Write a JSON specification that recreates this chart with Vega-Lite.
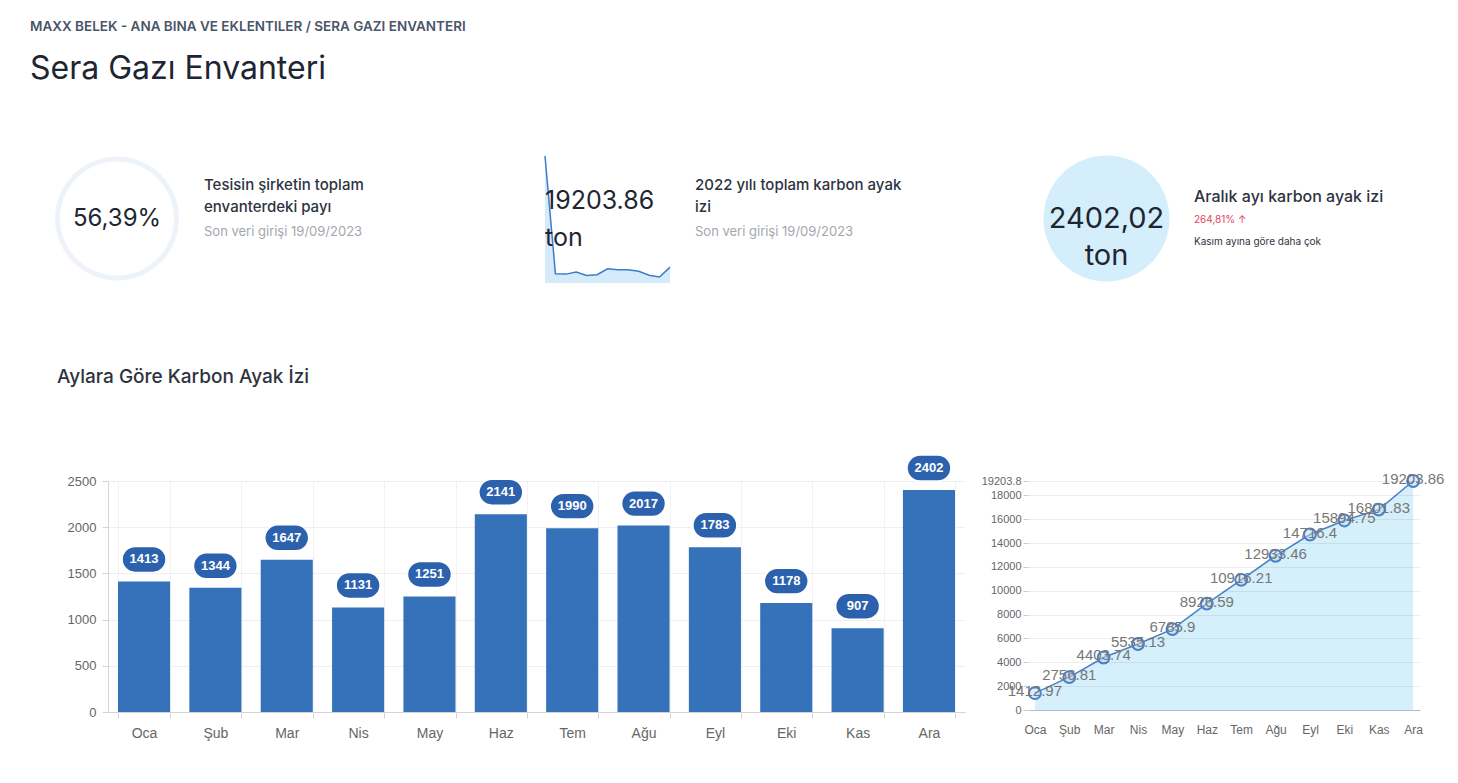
{
  "$schema": "https://vega.github.io/schema/vega-lite/v6.json",
  "background": "white",
  "padding": {"left": 30, "top": 20, "right": 10, "bottom": 10},
  "config": {"view": {"stroke": null}, "font": "Liberation Sans"},
  "title": {
    "text": "MAXX BELEK - ANA BINA VE EKLENTILER   /   SERA GAZI ENVANTERI",
    "subtitle": "Sera Gazı Envanteri",
    "anchor": "start",
    "font": "Inter",
    "fontSize": 13.5,
    "fontWeight": 600,
    "color": "#4a5568",
    "subtitleFont": "Inter",
    "subtitleFontSize": 32,
    "subtitleColor": "#1e2533",
    "subtitlePadding": 20,
    "offset": 66
  },
  "datasets": {
    "months": [
      {"month": "Oca", "monthly": 1412.97, "cumulative": 1412.97},
      {"month": "Şub", "monthly": 1343.84, "cumulative": 2756.81},
      {"month": "Mar", "monthly": 1646.93, "cumulative": 4403.74},
      {"month": "Nis", "monthly": 1131.39, "cumulative": 5535.13},
      {"month": "May", "monthly": 1250.77, "cumulative": 6785.9},
      {"month": "Haz", "monthly": 2140.69, "cumulative": 8926.59},
      {"month": "Tem", "monthly": 1989.62, "cumulative": 10916.21},
      {"month": "Ağu", "monthly": 2017.25, "cumulative": 12933.46},
      {"month": "Eyl", "monthly": 1782.94, "cumulative": 14716.4},
      {"month": "Eki", "monthly": 1178.35, "cumulative": 15894.75},
      {"month": "Kas", "monthly": 907.08, "cumulative": 16801.83},
      {"month": "Ara", "monthly": 2402.02, "cumulative": 19203.86}
    ],
    "spark": [
      {"label": "Toplam", "value": 19203.86, "caption": "19203.86 ton"},
      {"label": "Oca", "value": 1412.97},
      {"label": "Şub", "value": 1343.84},
      {"label": "Mar", "value": 1646.93},
      {"label": "Nis", "value": 1131.39},
      {"label": "May", "value": 1250.77},
      {"label": "Haz", "value": 2140.69},
      {"label": "Tem", "value": 1989.62},
      {"label": "Ağu", "value": 2017.25},
      {"label": "Eyl", "value": 1782.94},
      {"label": "Eki", "value": 1178.35},
      {"label": "Kas", "value": 907.08},
      {"label": "Ara", "value": 2402.02}
    ]
  },
  "spacing": 85,
  "vconcat": [
    {
      "spacing": 30,
      "hconcat": [
        {
          "spacing": 25,
          "hconcat": [
            {
              "width": 18,
              "height": 125,
              "data": {"values": [{"metric": "Tesisin payı", "share": 56.39, "label": "56,39%"}]},
              "layer": [
                {
                  "mark": {"type": "arc", "innerRadius": 57, "outerRadius": 62, "color": "#eef3fa"},
                  "encoding": {"theta": {"field": "share", "type": "quantitative"}}
                },
                {
                  "mark": {"type": "text", "font": "Inter", "fontSize": 24, "color": "#1f2633"},
                  "encoding": {"text": {"field": "label"}}
                }
              ]
            },
            {
              "width": 308,
              "height": 1,
              "title": {
                "text": ["Tesisin şirketin toplam", "envanterdeki payı"],
                "subtitle": "Son veri girişi 19/09/2023",
                "orient": "bottom",
                "offset": 16,
                "anchor": "start",
                "font": "Inter",
                "fontSize": 15,
                "fontWeight": 500,
                "lineHeight": 22,
                "color": "#2d3340",
                "subtitleFont": "Inter",
                "subtitleFontSize": 13,
                "subtitleColor": "#a3a7ae",
                "subtitlePadding": 11
              },
              "data": {"values": [{}]},
              "mark": {"type": "text", "text": ""}
            }
          ]
        },
        {
          "spacing": 22,
          "hconcat": [
            {
              "width": 125,
              "height": 127,
              "data": {"name": "spark"},
              "encoding": {
                "x": {"field": "label", "type": "ordinal", "sort": null, "scale": {"type": "point", "padding": 0}, "axis": null},
                "y": {"field": "value", "type": "quantitative", "scale": {"domain": [0, 19203.86], "nice": false}, "axis": null}
              },
              "layer": [
                {"mark": {"type": "area", "color": "#d6ebf9"}},
                {"mark": {"type": "line", "color": "#3d7cc9", "strokeWidth": 1.5}},
                {
                  "transform": [{"filter": "isValid(datum.caption)"}],
                  "mark": {"type": "text", "align": "left", "baseline": "middle", "dy": 45, "font": "Inter", "fontSize": 25, "lineBreak": " ", "lineHeight": 37, "color": "#1f2633"},
                  "encoding": {
                    "text": {"field": "caption", "type": "nominal"}
                  }
                }
              ]
            },
            {
              "width": 294,
              "height": 1,
              "title": {
                "text": ["2022 yılı toplam karbon ayak", "izi"],
                "subtitle": "Son veri girişi 19/09/2023",
                "orient": "bottom",
                "offset": 16,
                "anchor": "start",
                "font": "Inter",
                "fontSize": 15,
                "fontWeight": 500,
                "lineHeight": 22,
                "color": "#2d3340",
                "subtitleFont": "Inter",
                "subtitleFontSize": 13,
                "subtitleColor": "#a3a7ae",
                "subtitlePadding": 11
              },
              "data": {"values": [{}]},
              "mark": {"type": "text", "text": ""}
            }
          ]
        },
        {
          "spacing": 0,
          "hconcat": [
            {
              "width": 175,
              "height": 125,
              "data": {"values": [{"metric": "Aralık", "amount": 2402.02, "label": "2402,02 ton"}]},
              "layer": [
                {
                  "mark": {"type": "arc", "outerRadius": 63, "color": "#d5eefb"},
                  "encoding": {"theta": {"field": "amount", "type": "quantitative"}}
                },
                {
                  "mark": {"type": "text", "font": "Inter", "fontSize": 29, "lineBreak": " ", "lineHeight": 37, "color": "#1f2633"},
                  "encoding": {"text": {"field": "label"}}
                }
              ]
            },
            {
              "spacing": 0,
              "vconcat": [
                {
                  "width": 230,
                  "height": 1,
                  "title": {
                    "text": "Aralık ayı karbon ayak izi",
                    "subtitle": "264,81% ↑",
                    "orient": "bottom",
                    "offset": 27,
                    "anchor": "start",
                    "font": "Inter",
                    "fontSize": 16,
                    "fontWeight": 500,
                    "color": "#2d3340",
                    "subtitleFont": "Inter",
                    "subtitleFontSize": 10,
                    "subtitleColor": "#e0455b",
                    "subtitlePadding": 10
                  },
                  "data": {"values": [{}]},
                  "mark": {"type": "text", "text": ""}
                },
                {
                  "width": 230,
                  "height": 1,
                  "title": {
                    "text": "Kasım ayına göre daha çok",
                    "orient": "bottom",
                    "offset": 0,
                    "anchor": "start",
                    "font": "Inter",
                    "fontSize": 10,
                    "fontWeight": 400,
                    "color": "#2d3340"
                  },
                  "data": {"values": [{}]},
                  "mark": {"type": "text", "text": ""}
                }
              ]
            }
          ]
        }
      ]
    },
    {
      "title": {
        "text": "Aylara Göre Karbon Ayak İzi",
        "anchor": "start",
        "font": "Inter",
        "fontSize": 19,
        "fontWeight": 500,
        "color": "#2d3340",
        "offset": 65,
        "dx": 27
      },
      "bounds": "flush",
      "spacing": 63,
      "hconcat": [
        {
          "width": 857,
          "height": 231,
          "data": {"name": "months"},
          "encoding": {
            "x": {
              "field": "month",
              "type": "nominal",
              "sort": null,
              "scale": {"paddingInner": 0.27, "paddingOuter": 0.14},
              "axis": {
                "title": null,
                "labelAngle": 0,
                "labelColor": "#666666",
                "labelFontSize": 14,
                "labelPadding": 8,
                "domainColor": "#d4d4d4",
                "tickColor": "#d4d4d4",
                "tickSize": 6,
                "tickBand": "extent",
                "grid": true,
                "gridColor": "#f2f2f2"
              }
            },
            "y": {
              "field": "monthly",
              "type": "quantitative",
              "scale": {"domain": [0, 2500]},
              "axis": {
                "title": null,
                "values": [0, 500, 1000, 1500, 2000, 2500],
                "format": "d",
                "grid": true,
                "gridColor": "#efefef",
                "domainColor": "#d4d4d4",
                "tickColor": "#d4d4d4",
                "tickSize": 6,
                "labelPadding": 6,
                "labelColor": "#666666",
                "labelFontSize": 13,
                "minExtent": 78,
                "maxExtent": 78
              }
            }
          },
          "layer": [
            {"mark": {"type": "bar", "color": "#3572ba"}},
            {
              "mark": {
                "type": "point",
                "shape": "M-0.375,-0.54 L0.375,-0.54 A0.54,0.54 0 0 1 0.375,0.54 L-0.375,0.54 A0.54,0.54 0 0 1 -0.375,-0.54 Z",
                "size": 2304,
                "filled": true,
                "color": "#2c62ad",
                "stroke": "#ffffff",
                "strokeWidth": 1.5,
                "opacity": 1,
                "yOffset": -22
              }
            },
            {
              "mark": {"type": "text", "color": "white", "fontWeight": "bold", "fontSize": 13, "yOffset": -22},
              "encoding": {"text": {"field": "monthly", "type": "quantitative", "format": "d"}}
            }
          ]
        },
        {
          "width": 392,
          "height": 229,
          "data": {"name": "months"},
          "encoding": {
            "x": {
              "field": "month",
              "type": "ordinal",
              "sort": null,
              "scale": {"type": "point", "padding": 0.2},
              "axis": {
                "title": null,
                "labelAngle": 0,
                "labelColor": "#666666",
                "labelFontSize": 12,
                "labelPadding": 14,
                "ticks": false,
                "domainColor": "#b9cde0"
              }
            },
            "y": {
              "field": "cumulative",
              "type": "quantitative",
              "scale": {"domain": [0, 19203.86], "nice": false},
              "axis": {
                "title": null,
                "values": [0, 2000, 4000, 6000, 8000, 10000, 12000, 14000, 16000, 18000, 19203.86],
                "format": "d",
                "labelExpr": "datum.value > 19000 ? '19203.8' : datum.label",
                "grid": true,
                "gridColor": "#000000",
                "gridOpacity": 0.07,
                "domain": false,
                "tickColor": "#cccccc",
                "tickSize": 5,
                "labelPadding": 2,
                "labelColor": "#666666",
                "labelFontSize": 11,
                "zindex": 1
              }
            }
          },
          "layer": [
            {"mark": {"type": "area", "color": "#d5effb"}},
            {"mark": {"type": "line", "color": "#4a80c8", "strokeWidth": 1.5}},
            {"mark": {"type": "point", "size": 140, "filled": true, "fill": "#bcdcf5", "fillOpacity": 0.5, "stroke": "#4a80c8", "strokeWidth": 2, "opacity": 1}},
            {
              "mark": {"type": "text", "color": "#777777", "fontSize": 15, "dy": -2},
              "encoding": {"text": {"field": "cumulative", "type": "quantitative", "format": ".2~f"}}
            }
          ]
        }
      ]
    }
  ]
}
